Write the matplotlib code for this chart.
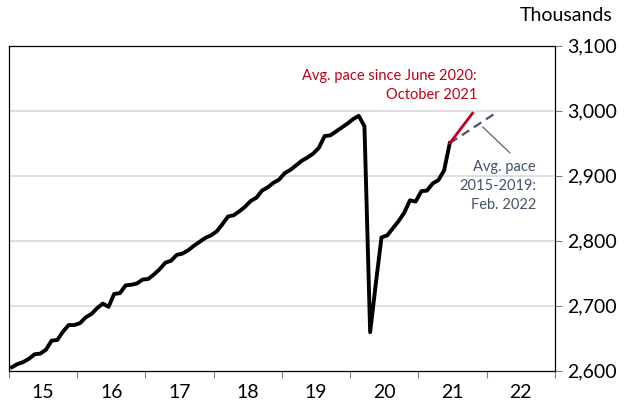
import numpy as np
import matplotlib
matplotlib.use("Agg")
import matplotlib.pyplot as plt
from matplotlib.ticker import FixedLocator, FuncFormatter

plt.rcParams['font.family'] = ['Lato', 'DejaVu Sans']

# monthly series, Jan 2015 - Jun 2021 (thousands)
start_year = 2015
employment = [
    2605, 2610, 2613, 2618, 2625, 2626, 2632, 2646, 2647, 2660, 2670, 2670,
    2673, 2682, 2687, 2696, 2703, 2698, 2718, 2719, 2731, 2732, 2734, 2740,
    2741, 2748, 2756, 2766, 2769, 2778, 2780, 2785, 2792, 2798, 2804, 2808,
    2814, 2825, 2837, 2839, 2845, 2852, 2861, 2866, 2877, 2882, 2889, 2894,
    2904, 2909, 2916, 2923, 2928, 2934, 2943, 2961, 2962, 2968, 2974, 2980,
    2987, 2992, 2976, 2659, 2734, 2805, 2808, 2819, 2830, 2843, 2862, 2860,
    2876, 2877, 2888, 2893, 2908, 2950,
]
# projections: month index (from Jan 2015) and level
recent_pace_months = [77, 81]      # Jun 2021 -> Oct 2021
recent_pace_values = [2950, 2996]
old_pace_months = [77, 85]         # Jun 2021 -> Feb 2022
old_pace_values = [2950, 2996]

year_labels = ['15', '16', '17', '18', '19', '20', '21', '22']
y_ticks = [2600, 2700, 2800, 2900, 3000, 3100]


def month_to_x(m):
    return start_year + (np.asarray(m) + 0.5) / 12


fig = plt.figure(figsize=(6.24, 4.11), dpi=100)
ax = fig.add_axes([0.0144, 0.0985, 0.8750, 0.7903])

x = month_to_x(np.arange(len(employment)))
ax.plot(x, employment, color='black', lw=2.8, solid_joinstyle='round', zorder=3)
ax.plot(month_to_x(recent_pace_months), recent_pace_values, color='#C0001A', lw=2.0, zorder=4)
ax.plot(month_to_x(old_pace_months), old_pace_values, color='#44546A', lw=1.6,
        dashes=(4, 2.5), zorder=2)

ax.set_xlim(2015, 2023)
ax.set_ylim(2600, 3100)

# gridlines
for v in y_ticks[1:-1]:
    ax.axhline(v, color='#D9D9D9', lw=1.2, zorder=1)

ax.yaxis.tick_right()
ax.yaxis.set_major_locator(FixedLocator(y_ticks))
ax.yaxis.set_major_formatter(FuncFormatter(lambda v, p: f"{int(v):,}"))
ax.tick_params(axis='y', which='major', length=5, width=0.8, color='#808080',
               labelsize=14, pad=4)

years = np.arange(2015, 2024)
ax.xaxis.set_major_locator(FixedLocator(years))
ax.xaxis.set_major_formatter(FuncFormatter(lambda v, p: ''))
ax.xaxis.set_minor_locator(FixedLocator(years[:-1] + 0.5))
ax.set_xticklabels(year_labels, minor=True)
ax.tick_params(axis='x', which='major', length=5, width=0.8, color='#808080')
ax.tick_params(axis='x', which='minor', length=0, labelsize=14, pad=10)

for s in ax.spines.values():
    s.set_color('black')
    s.set_linewidth(0.9)

fig.text(0.981, 0.962, 'Thousands', ha='right', va='center', fontsize=14)

ax.text(2021.857, 3039, 'Avg. pace since June 2020:\nOctober 2021', color='#C0001A',
        ha='right', va='center', fontsize=10.5, linespacing=1.45)
ax.text(2022.72, 2884, 'Avg. pace\n2015-2019:\nFeb. 2022', color='#44546A',
        ha='right', va='center', fontsize=10.5, linespacing=1.45)
ax.plot([2021.94, 2022.34], [2975, 2935], color='#44546A', lw=0.8, zorder=2)

fig.savefig('out.png', dpi=100)
